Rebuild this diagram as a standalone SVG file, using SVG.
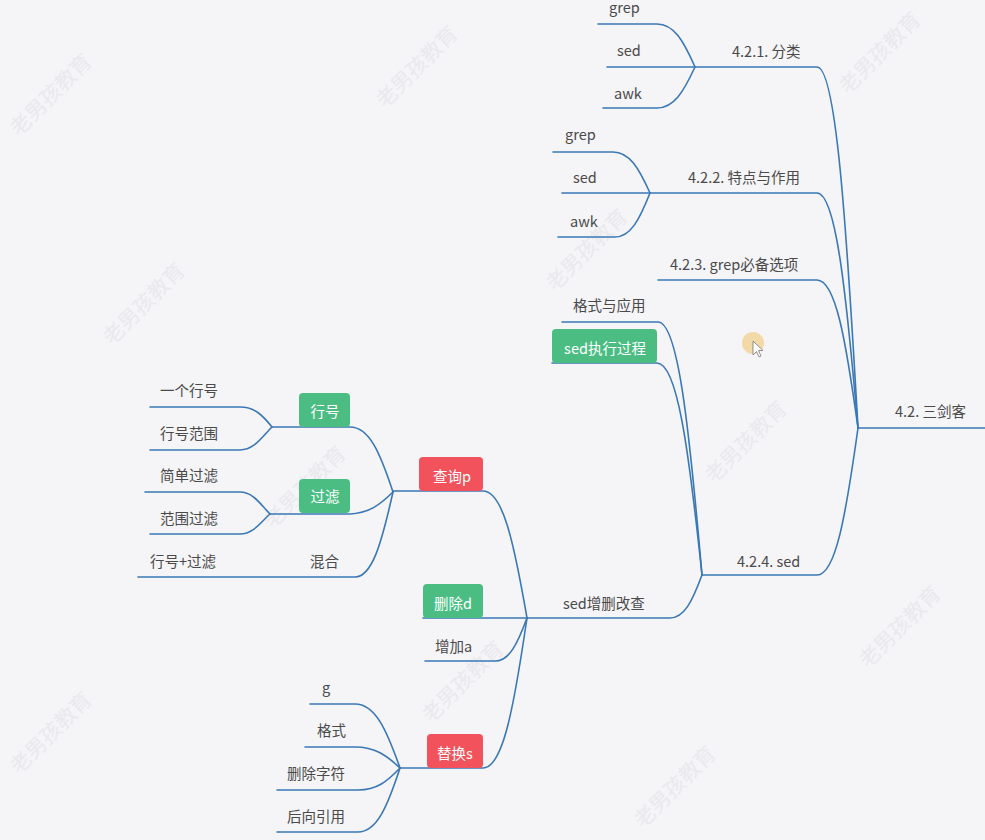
<svg xmlns="http://www.w3.org/2000/svg" width="985" height="840" viewBox="0 0 985 840">
<style>
.t{font-family:"Noto Sans CJK SC","Noto Sans",sans-serif;font-size:14.5px;fill:#4a4a4a}
.w{font-family:"Noto Sans CJK SC","Noto Sans",sans-serif;font-size:14.5px;fill:#ffffff;text-anchor:middle}
.wm{font-family:"Noto Sans CJK SC",sans-serif;font-size:21px;fill:#eae9ed;text-anchor:middle}
.c{fill:none;stroke:#3a78b5;stroke-width:1.6;stroke-linecap:round}
.g{fill:#4bbd83}
.r{fill:#f1525c}
</style>
<rect width="985" height="840" fill="#f5f4f7"/>
<g id="watermarks">
<text class="wm" transform="translate(422,72) rotate(-45)">老男孩教育</text>
<text class="wm" transform="translate(56,100) rotate(-45)">老男孩教育</text>
<text class="wm" transform="translate(149,309) rotate(-45)">老男孩教育</text>
<text class="wm" transform="translate(885,58) rotate(-45)">老男孩教育</text>
<text class="wm" transform="translate(592,255) rotate(-45)">老男孩教育</text>
<text class="wm" transform="translate(751,447) rotate(-45)">老男孩教育</text>
<text class="wm" transform="translate(310,492) rotate(-45)">老男孩教育</text>
<text class="wm" transform="translate(468,687) rotate(-45)">老男孩教育</text>
<text class="wm" transform="translate(905,632) rotate(-45)">老男孩教育</text>
<text class="wm" transform="translate(56,738) rotate(-45)">老男孩教育</text>
<text class="wm" transform="translate(680,792) rotate(-45)">老男孩教育</text>
</g>
<g id="connectors">
<path class="c" d="M858,428 H985"/>
<path class="c" d="M695,67 H817 C835.5,67 845.7,211.4 858,428"/>
<path class="c" d="M650,193 H817 C835.5,193 845.7,287 858,428"/>
<path class="c" d="M658,280 H817 C835.5,280 845.7,339.2 858,428"/>
<path class="c" d="M702,575 H817 C835.5,575 845.7,516.2 858,428"/>
<path class="c" d="M598,24 H657 C674.1,24 683.6,41.2 695,67"/>
<path class="c" d="M607,67 H695"/>
<path class="c" d="M603,108 H657 C674.1,108 683.6,91.6 695,67"/>
<path class="c" d="M553,152 H613 C629.7,152 638.9,168.4 650,193"/>
<path class="c" d="M562,193 H650"/>
<path class="c" d="M558,237 H615 C630.75,237 639.5,219.4 650,193"/>
<path class="c" d="M562,322 H658 C677.8,322 688.8,423.2 702,575"/>
<path class="c" d="M552,363 H657 C677.25,363 688.5,447.8 702,575"/>
<path class="c" d="M527,618 H670 C684.4,618 692.4,600.8 702,575"/>
<path class="c" d="M393,491 H483 C502.8,491 513.8,541.8 527,618"/>
<path class="c" d="M423,618 H527"/>
<path class="c" d="M425,661 H495 C509.4,661 517.4,643.8 527,618"/>
<path class="c" d="M400,768 H483 C502.8,768 513.8,708 527,618"/>
<path class="c" d="M272,427 H350 C369.4,427 380.1,453 393,492"/>
<path class="c" d="M270,514 H350 C369.4,513 380.1,504.6 393,492"/>
<path class="c" d="M138,577 H355 C372.1,577 381.6,543 393,492"/>
<path class="c" d="M150,407 H240 C254.4,407 262.4,415 272,427"/>
<path class="c" d="M150,450 H240 C254.4,450 262.4,436.2 272,427"/>
<path class="c" d="M145,492 H240 C253.5,492 261,505.2 270,514"/>
<path class="c" d="M150,534 H240 C253.5,534 261,522 270,514"/>
<path class="c" d="M310,704 H355 C375.25,704 386.5,729.6 400,768"/>
<path class="c" d="M305,747 H355 C375.25,747 386.5,755.4 400,768"/>
<path class="c" d="M277,790 H358 C376.9,790 387.4,781.2 400,768"/>
<path class="c" d="M277,832 H358 C376.9,832 387.4,806.4 400,768"/>
</g>
<g id="n-root"><text class="t" x="895" y="417">4.2. 三剑客</text></g>
<g id="n-421"><text class="t" x="732" y="57">4.2.1. 分类</text></g>
<g id="n-421-grep"><text class="t" x="609" y="13">grep</text></g>
<g id="n-421-sed"><text class="t" x="617" y="56">sed</text></g>
<g id="n-421-awk"><text class="t" x="614" y="99">awk</text></g>
<g id="n-422"><text class="t" x="688" y="183">4.2.2. 特点与作用</text></g>
<g id="n-422-grep"><text class="t" x="565" y="140">grep</text></g>
<g id="n-422-sed"><text class="t" x="573" y="183">sed</text></g>
<g id="n-422-awk"><text class="t" x="570" y="227">awk</text></g>
<g id="n-423"><text class="t" x="670" y="270">4.2.3. grep必备选项</text></g>
<g id="n-424"><text class="t" x="737" y="567">4.2.4. sed</text></g>
<g id="n-fmt"><text class="t" x="573" y="311">格式与应用</text></g>
<g id="n-exec"><rect class="g" x="552" y="329" width="105" height="34" rx="4"/><text class="w" x="605" y="354">sed执行过程</text></g>
<g id="n-crud"><text class="t" x="563" y="609">sed增删改查</text></g>
<g id="n-query"><rect class="r" x="419" y="457" width="64" height="34" rx="4"/><text class="w" x="452" y="482">查询p</text></g>
<g id="n-line"><rect class="g" x="299" y="393" width="51" height="34" rx="4"/><text class="w" x="325" y="417">行号</text></g>
<g id="n-line1"><text class="t" x="160" y="396">一个行号</text></g>
<g id="n-line2"><text class="t" x="160" y="439">行号范围</text></g>
<g id="n-filter"><rect class="g" x="299" y="479" width="51" height="34" rx="4"/><text class="w" x="325" y="502">过滤</text></g>
<g id="n-filter1"><text class="t" x="160" y="481">简单过滤</text></g>
<g id="n-filter2"><text class="t" x="160" y="524">范围过滤</text></g>
<g id="n-mix"><text class="t" x="310" y="567">混合</text></g>
<g id="n-mix1"><text class="t" x="150" y="567">行号+过滤</text></g>
<g id="n-del"><rect class="g" x="423" y="584" width="60" height="34" rx="4"/><text class="w" x="453" y="609">删除d</text></g>
<g id="n-add"><text class="t" x="435" y="652">增加a</text></g>
<g id="n-sub"><rect class="r" x="427" y="734" width="56" height="34" rx="4"/><text class="w" x="455" y="759">替换s</text></g>
<g id="n-sub-g"><text class="t" x="322" y="693">g</text></g>
<g id="n-sub-fmt"><text class="t" x="317" y="736">格式</text></g>
<g id="n-sub-del"><text class="t" x="287" y="779">删除字符</text></g>
<g id="n-sub-ref"><text class="t" x="287" y="822">后向引用</text></g>
<g id="cursor">
<circle cx="753" cy="343" r="11" fill="#f2d49a" opacity="0.85"/>
<path d="M753,341 L753,355 L756.5,351.5 L759,357 L761,356 L758.5,350.5 L763,350.5 Z" fill="#ffffff" stroke="#777" stroke-width="0.8"/>
</g>
</svg>
